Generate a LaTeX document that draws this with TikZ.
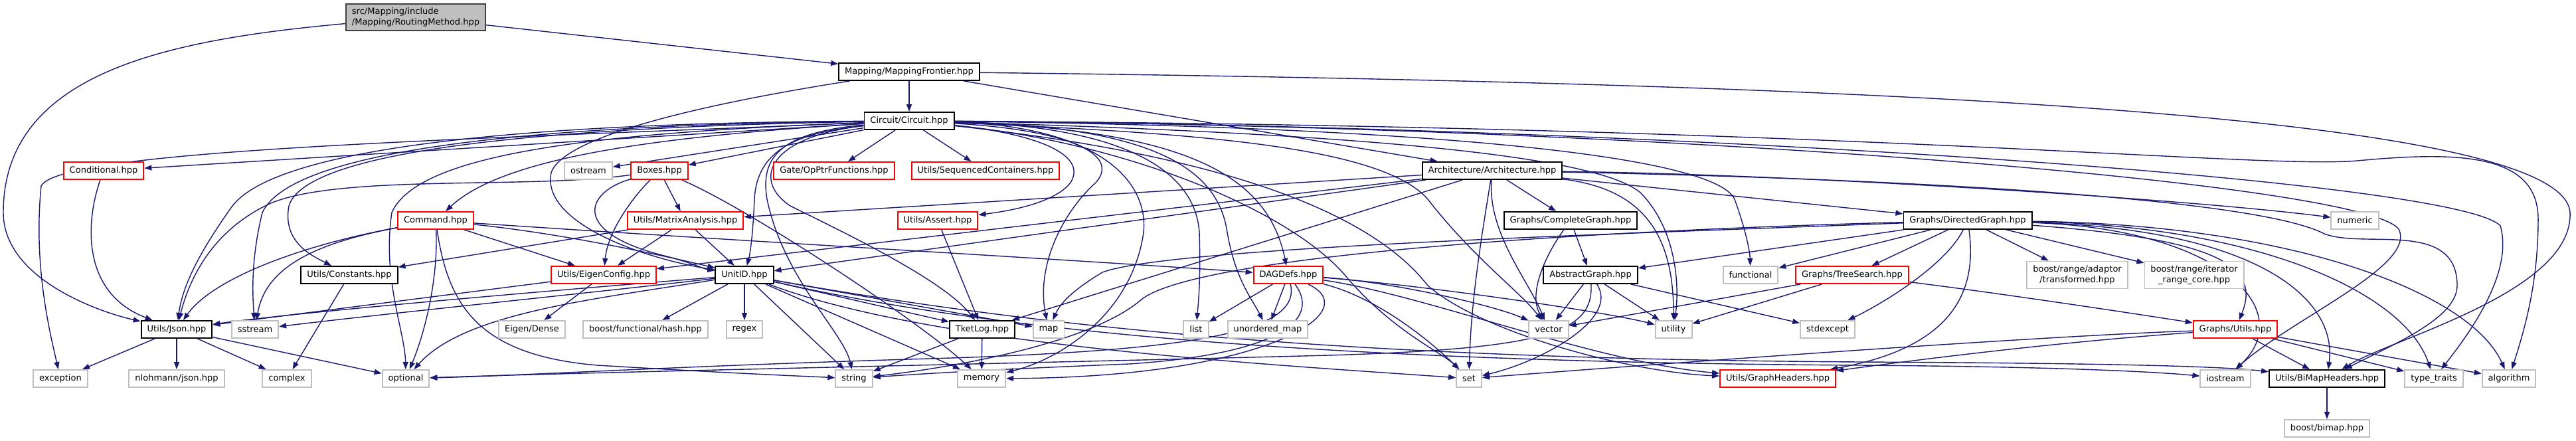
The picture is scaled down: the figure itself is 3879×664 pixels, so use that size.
\documentclass[tikz,border=0pt]{standalone}
\usepackage{fontspec}
\newfontfamily\depfont{DejaVu Sans}
\usetikzlibrary{arrows.meta}
\definecolor{navyedge}{HTML}{191970}
\definecolor{extgray}{HTML}{BFBFBF}
\definecolor{rootfill}{HTML}{BFBFBF}
\definecolor{rootdraw}{HTML}{404040}
\pgfdeclarelayer{edges}
\pgfsetlayers{edges,main}

\begin{document}
\begin{tikzpicture}[
    x=0.01cm, y=-0.01cm,
    filebox/.style={rectangle, draw, fill=white, font=\depfont\fontsize{3.7}{4.35}\selectfont, inner xsep=0.09cm, inner ysep=0pt, minimum height=0.26cm, line width=0.55pt},
    docbox/.style={filebox, draw=black},
    truncbox/.style={filebox, draw=red},
    extbox/.style={filebox, draw=extgray},
    twoline/.style={align=center, minimum height=0.41cm},
    rootbox/.style={filebox, draw=rootdraw, fill=rootfill, align=left, minimum height=0.40cm},
    dep/.style={draw=navyedge, line width=0.4pt, -{Triangle[length=0.11cm, width=0.08cm]}}
]
\useasboundingbox (0,0) rectangle (3879,664);

% Root and first levels
\node[rootbox] (rm) at (626,26) {src/Mapping/include\\/Mapping/RoutingMethod.hpp};
\node[docbox] (mf) at (1369,108) {Mapping/MappingFrontier.hpp};
\node[docbox] (cc) at (1369,182) {Circuit/Circuit.hpp};

% Row 3
\node[truncbox] (cond) at (156,257) {Conditional.hpp};
\node[extbox] (ostream) at (886,257) {ostream};
\node[truncbox] (boxes) at (993,257) {Boxes.hpp};
\node[truncbox] (oppf) at (1256,257) {Gate/OpPtrFunctions.hpp};
\node[truncbox] (seqc) at (1484,257) {Utils/SequencedContainers.hpp};
\node[docbox] (arch) at (2247,257) {Architecture/Architecture.hpp};

% Row 4
\node[truncbox] (cmd) at (656,332) {Command.hpp};
\node[truncbox] (matan) at (1032,332) {Utils/MatrixAnalysis.hpp};
\node[truncbox] (asrt) at (1412,332) {Utils/Assert.hpp};
\node[docbox] (cgraph) at (2365,332) {Graphs/CompleteGraph.hpp};
\node[docbox] (dgraph) at (2963,332) {Graphs/DirectedGraph.hpp};
\node[extbox] (numeric) at (3546,332) {numeric};

% Row 5
\node[docbox] (consts) at (526,414) {Utils/Constants.hpp};
\node[truncbox] (eigcfg) at (909,414) {Utils/EigenConfig.hpp};
\node[docbox] (unitid) at (1121,414) {UnitID.hpp};
\node[truncbox] (dag) at (1940,414) {DAGDefs.hpp};
\node[docbox] (agraph) at (2395,414) {AbstractGraph.hpp};
\node[extbox] (functional) at (2636,414) {functional};
\node[truncbox] (tsearch) at (2789,414) {Graphs/TreeSearch.hpp};
\node[extbox, twoline] (bradapt) at (3128,414) {boost/range/adaptor\\/transformed.hpp};
\node[extbox, twoline] (briter) at (3304,414) {boost/range/iterator\\\_range\_core.hpp};

% Row 6
\node[docbox] (json) at (266,496) {Utils/Json.hpp};
\node[extbox] (sstream) at (384,496) {sstream};
\node[extbox] (eigdense) at (801,496) {Eigen/Dense};
\node[extbox] (bfhash) at (972,496) {boost/functional/hash.hpp};
\node[extbox] (regex) at (1121,496) {regex};
\node[docbox] (tketlog) at (1479,496) {TketLog.hpp};
\node[extbox] (stdmap) at (1579,496) {map};
\node[extbox] (stdlist) at (1801,496) {list};
\node[extbox] (umap) at (1909,496) {unordered\_map};
\node[extbox] (vector) at (2332,496) {vector};
\node[extbox] (utility) at (2520,496) {utility};
\node[extbox] (stdexcept) at (2752,496) {stdexcept};
\node[truncbox] (gutils) at (3366,496) {Graphs/Utils.hpp};

% Row 7
\node[extbox] (exception) at (91,570) {exception};
\node[extbox] (nlohmann) at (266,570) {nlohmann/json.hpp};
\node[extbox] (complex) at (432,570) {complex};
\node[extbox] (optional) at (611,570) {optional};
\node[extbox] (string) at (1286,570) {string};
\node[extbox] (memory) at (1478,570) {memory};
\node[extbox] (stdset) at (2212,570) {set};
\node[truncbox] (gheaders) at (2677,570) {Utils/GraphHeaders.hpp};
\node[extbox] (iostream) at (3351,570) {iostream};
\node[docbox] (bimaph) at (3504,570) {Utils/BiMapHeaders.hpp};
\node[extbox] (typetr) at (3665,570) {type\_traits};
\node[extbox] (algorithm) at (3778,570) {algorithm};

% Row 8
\node[extbox] (bbimap) at (3504,645) {boost/bimap.hpp};

\begin{pgfonlayer}{edges}
% Root
\draw[dep] (rm) .. controls (250,60) and (5,110) .. (5,320) .. controls (5,420) and (150,470) .. (json);
\draw[dep] (rm) -- (mf);

% Mapping frontier
\draw[dep] (mf) -- (cc);
\draw[dep] (mf) -- (arch);
\draw[dep] (mf) .. controls (1100,150) and (850,200) .. (830,260) .. controls (815,330) and (950,385) .. (unitid);
\draw[dep] (mf) .. controls (2800,125) and (3860,170) .. (3870,320) .. controls (3875,440) and (3600,510) .. (bimaph);

% Circuit
\draw[dep] (cc) -- (cond);
\draw[dep] (cc) .. controls (700,210) and (90,225) .. (62,280) .. controls (50,400) and (75,500) .. (exception);
\draw[dep] (cc) -- (ostream);
\draw[dep] (cc) -- (boxes);
\draw[dep] (cc) -- (oppf);
\draw[dep] (cc) -- (seqc);
\draw[dep] (cc) .. controls (1000,205) and (760,235) .. (cmd);
\draw[dep] (cc) .. controls (800,185) and (420,220) .. (350,310) .. controls (300,380) and (275,430) .. (json);
\draw[dep] (cc) .. controls (800,188) and (440,225) .. (395,320) .. controls (378,390) and (380,440) .. (sstream);
\draw[dep] (cc) .. controls (800,192) and (460,228) .. (435,310) .. controls (425,365) and (470,385) .. (consts);
\draw[dep] (cc) .. controls (900,200) and (630,230) .. (590,320) .. controls (575,420) and (610,500) .. (optional);
\draw[dep] (cc) .. controls (1200,200) and (1140,225) .. (1136,300) .. controls (1134,350) and (1130,380) .. (unitid);
\draw[dep] (cc) .. controls (1550,200) and (1640,230) .. (1612,275) .. controls (1585,310) and (1500,320) .. (asrt);
\draw[dep] (cc) .. controls (1600,195) and (1690,230) .. (1650,275) .. controls (1600,320) and (1560,400) .. (stdmap);
\draw[dep] (cc) .. controls (1650,190) and (1730,270) .. (1722,350) .. controls (1705,470) and (1600,540) .. (memory);
\draw[dep] (cc) .. controls (1700,190) and (1800,260) .. (1806,350) .. controls (1808,420) and (1805,450) .. (stdlist);
\draw[dep] (cc) .. controls (1750,190) and (1835,260) .. (1848,350) .. controls (1860,420) and (1885,450) .. (umap);
\draw[dep] (cc) .. controls (1800,195) and (1910,270) .. (dag);
\draw[dep] (cc) .. controls (1800,200) and (2080,220) .. (2150,300) .. controls (2220,390) and (2290,440) .. (vector);
\draw[dep] (cc) .. controls (2000,200) and (2400,230) .. (2470,290) .. controls (2520,340) and (2530,420) .. (utility);
\draw[dep] (cc) .. controls (2100,190) and (2580,230) .. (2612,300) .. controls (2630,350) and (2635,380) .. (functional);
\draw[dep] (cc) .. controls (1900,240) and (2080,340) .. (2150,430) .. controls (2230,500) and (2450,560) .. (gheaders);
\draw[dep] (cc) .. controls (2500,190) and (3560,275) .. (3612,345) .. controls (3640,400) and (3450,480) .. (iostream);
\draw[dep] (cc) .. controls (2500,190) and (3700,270) .. (3765,340) .. controls (3785,410) and (3720,500) .. (typetr);
\draw[dep] (cc) .. controls (2800,190) and (3400,255) .. (3550,242) .. controls (3700,228) and (3822,230) .. (3822,330) .. controls (3822,430) and (3800,500) .. (algorithm);
\draw[dep] (cc) .. controls (1160,205) and (1130,270) .. (1190,310) .. controls (1260,345) and (1420,420) .. (tketlog);
\draw[dep] (cc) .. controls (1170,200) and (1145,240) .. (1155,300) .. controls (1180,420) and (1270,500) .. (string);
\draw[dep] (cc) .. controls (1700,215) and (1950,320) .. (2030,420) .. controls (2100,500) and (2170,530) .. (stdset);

% Boxes
\draw[dep] (boxes) .. controls (800,285) and (520,262) .. (410,305) .. controls (320,345) and (285,420) .. (json);
\draw[dep] (boxes) -- (matan);
\draw[dep] (boxes) .. controls (950,300) and (915,350) .. (eigcfg);
\draw[dep] (boxes) .. controls (880,290) and (860,350) .. (1000,385) .. controls (1040,395) and (1060,405) .. (unitid);
\draw[dep] (boxes) .. controls (1120,310) and (1380,480) .. (memory);

% Command
\draw[dep] (cmd) .. controls (450,370) and (320,420) .. (json);
\draw[dep] (cmd) .. controls (480,365) and (400,400) .. (sstream);
\draw[dep] (cmd) .. controls (660,420) and (640,500) .. (optional);
\draw[dep] (cmd) .. controls (850,352) and (1000,385) .. (unitid);
\draw[dep] (cmd) -- (eigcfg);
\draw[dep] (cmd) .. controls (1100,362) and (1600,390) .. (dag);
\draw[dep] (cmd) .. controls (675,460) and (720,535) .. (900,550) .. controls (1100,562) and (1200,566) .. (string);

% Matrix analysis, conditional, json, constants, eigen
\draw[dep] (matan) -- (eigcfg);
\draw[dep] (matan) -- (unitid);
\draw[dep] (matan) -- (consts);
\draw[dep] (cond) .. controls (130,330) and (120,440) .. (json);
\draw[dep] (json) -- (exception);
\draw[dep] (json) -- (nlohmann);
\draw[dep] (json) -- (complex);
\draw[dep] (json) -- (optional);
\draw[dep] (consts) -- (complex);
\draw[dep] (eigcfg) -- (json);
\draw[dep] (eigcfg) -- (eigdense);

% UnitID
\draw[dep] (unitid) -- (bfhash);
\draw[dep] (unitid) -- (regex);
\draw[dep] (unitid) -- (string);
\draw[dep] (unitid) -- (memory);
\draw[dep] (unitid) -- (tketlog);
\draw[dep] (unitid) -- (stdmap);
\draw[dep] (unitid) .. controls (800,440) and (450,470) .. (json);
\draw[dep] (unitid) .. controls (900,440) and (600,470) .. (sstream);
\draw[dep] (unitid) .. controls (900,450) and (700,470) .. (optional);
\draw[dep] (unitid) .. controls (1400,520) and (1900,548) .. (stdset);
\draw[dep] (unitid) .. controls (1500,500) and (2000,545) .. (2800,550) .. controls (3100,552) and (3250,560) .. (iostream);
\draw[dep] (unitid) .. controls (1550,490) and (2000,540) .. (2800,545) .. controls (3200,547) and (3350,552) .. (bimaph);

% Assert and log
\draw[dep] (asrt) -- (tketlog);
\draw[dep] (tketlog) -- (string);
\draw[dep] (tketlog) -- (memory);

% DAG definitions
\draw[dep] (dag) -- (stdlist);
\draw[dep] (dag) -- (umap);
\draw[dep] (dag) .. controls (1995,490) and (1900,535) .. (1700,548) .. controls (1500,556) and (1400,562) .. (string);
\draw[dep] (dag) .. controls (2060,470) and (1900,568) .. (memory);
\draw[dep] (dag) .. controls (2100,425) and (2250,460) .. (vector);
\draw[dep] (dag) .. controls (2150,430) and (2420,470) .. (utility);
\draw[dep] (dag) .. controls (2080,450) and (2160,520) .. (stdset);
\draw[dep] (dag) .. controls (2150,445) and (2400,545) .. (gheaders);
\draw[dep] (dag) .. controls (1960,500) and (1800,528) .. (1400,540) .. controls (1000,552) and (800,565) .. (optional);

% Architecture
\draw[dep] (arch) .. controls (2700,262) and (3300,300) .. (numeric);
\draw[dep] (arch) .. controls (2900,270) and (3400,300) .. (3500,352) .. controls (3560,375) and (3700,330) .. (3700,430) .. controls (3700,480) and (3600,520) .. (bimaph);
\draw[dep] (arch) -- (cgraph);
\draw[dep] (arch) -- (dgraph);
\draw[dep] (arch) -- (unitid);
\draw[dep] (arch) -- (matan);
\draw[dep] (arch) -- (eigcfg);
\draw[dep] (arch) -- (tketlog);
\draw[dep] (arch) .. controls (2240,350) and (2300,420) .. (vector);
\draw[dep] (arch) .. controls (2232,350) and (2215,450) .. (stdset);
\draw[dep] (arch) .. controls (2480,285) and (2520,360) .. (utility);

% Complete graph
\draw[dep] (cgraph) -- (agraph);
\draw[dep] (cgraph) .. controls (2330,380) and (2300,440) .. (vector);

% Directed graph
\draw[dep] (dgraph) -- (agraph);
\draw[dep] (dgraph) -- (functional);
\draw[dep] (dgraph) -- (tsearch);
\draw[dep] (dgraph) -- (bradapt);
\draw[dep] (dgraph) -- (briter);
\draw[dep] (dgraph) .. controls (2930,400) and (2830,460) .. (stdexcept);
\draw[dep] (dgraph) .. controls (2975,420) and (2960,520) .. (gheaders);
\draw[dep] (dgraph) .. controls (3340,360) and (3405,400) .. (gutils);
\draw[dep] (dgraph) .. controls (3350,345) and (3460,470) .. (iostream);
\draw[dep] (dgraph) .. controls (3400,345) and (3520,450) .. (bimaph);
\draw[dep] (dgraph) .. controls (3400,340) and (3620,440) .. (typetr);
\draw[dep] (dgraph) .. controls (3450,338) and (3720,440) .. (algorithm);
\draw[dep] (dgraph) .. controls (2450,352) and (1760,372) .. (1660,410) .. controls (1610,440) and (1595,460) .. (stdmap);
\draw[dep] (dgraph) .. controls (2300,350) and (1800,390) .. (1720,450) .. controls (1640,520) and (1420,555) .. (string);

% Abstract graph
\draw[dep] (agraph) -- (vector);
\draw[dep] (agraph) -- (utility);
\draw[dep] (agraph) -- (stdexcept);
\draw[dep] (agraph) .. controls (2440,480) and (2320,545) .. (stdset);
\draw[dep] (agraph) .. controls (2400,500) and (2330,525) .. (2000,535) .. controls (1500,548) and (900,560) .. (optional);

% Tree search
\draw[dep] (tsearch) -- (vector);
\draw[dep] (tsearch) -- (utility);
\draw[dep] (tsearch) .. controls (3000,440) and (3200,470) .. (gutils);

% Graph utils
\draw[dep] (gutils) -- (bimaph);
\draw[dep] (gutils) -- (typetr);
\draw[dep] (gutils) -- (algorithm);
\draw[dep] (gutils) .. controls (3100,505) and (2600,540) .. (stdset);
\draw[dep] (gutils) .. controls (3100,515) and (2900,540) .. (gheaders);

% BiMap
\draw[dep] (bimaph) -- (bbimap);
\end{pgfonlayer}

\end{tikzpicture}
\end{document}
